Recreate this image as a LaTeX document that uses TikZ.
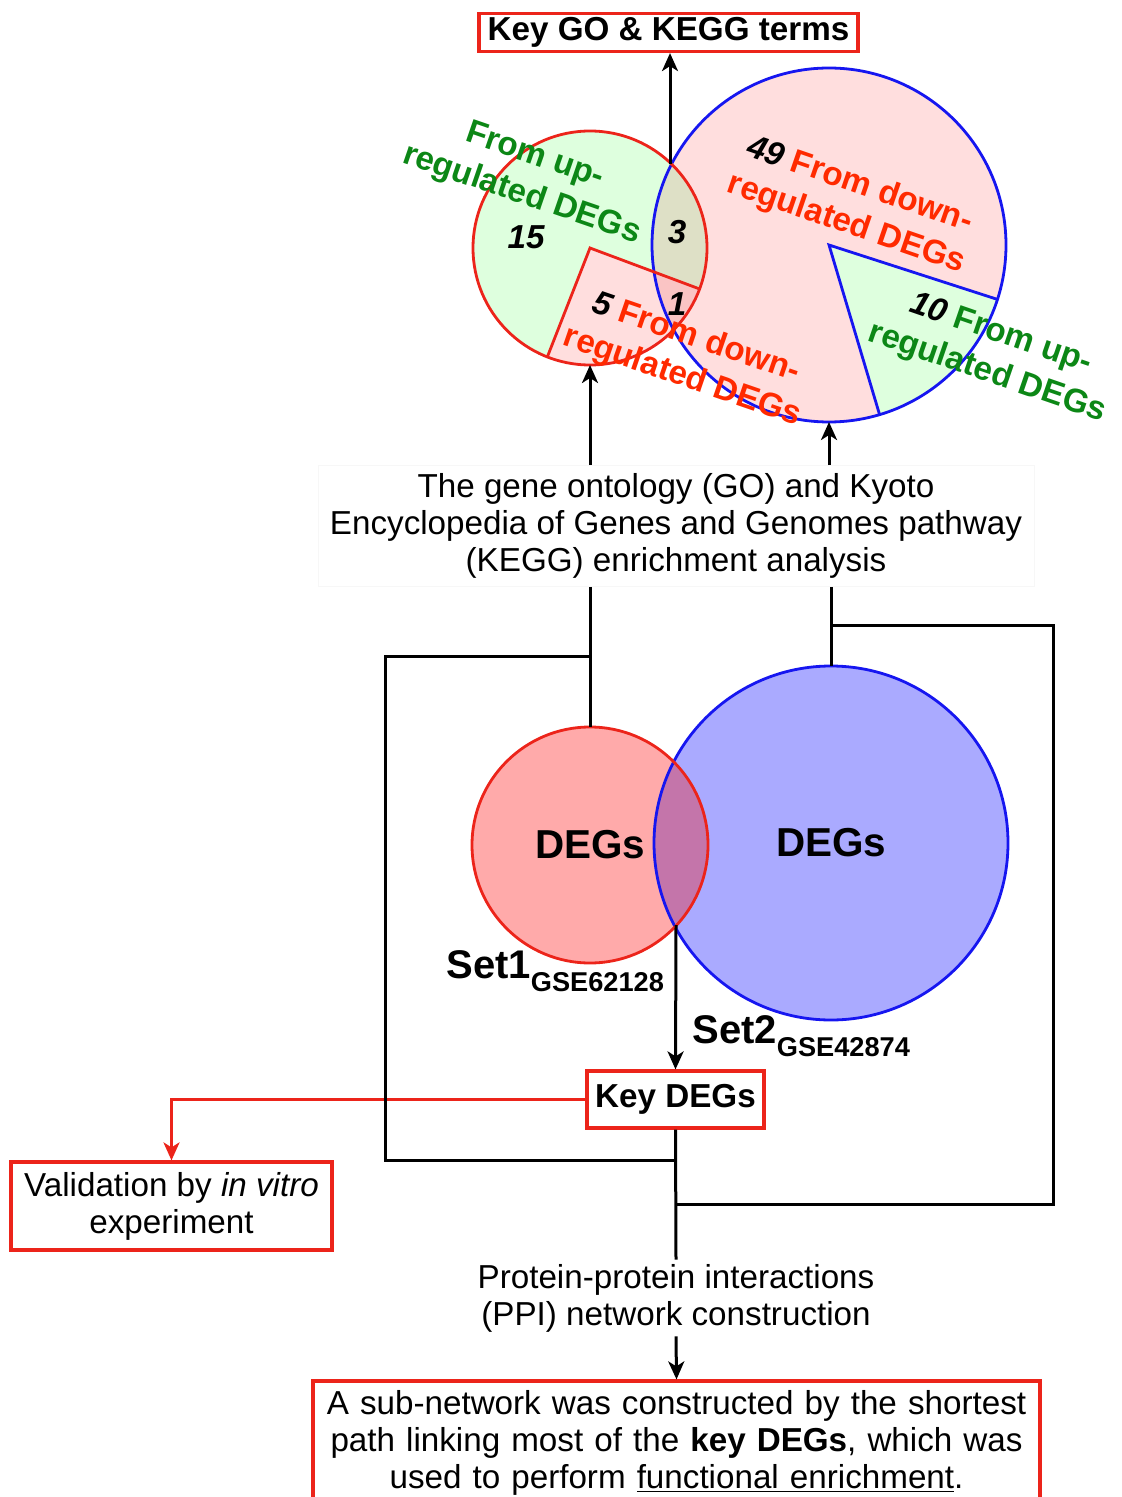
\documentclass[tikz,border=0pt]{standalone}
\usepackage{fontspec}
\setmainfont{Liberation Sans}
\usetikzlibrary{calc,arrows.meta,positioning}
\definecolor{boxred}{RGB}{236,36,26}
\definecolor{txtred}{RGB}{255,42,0}
\definecolor{txtgreen}{RGB}{12,135,22}
\definecolor{blueline}{RGB}{22,22,240}
\definecolor{pinkfill}{RGB}{255,222,222}
\definecolor{greenfill}{RGB}{222,255,222}
\definecolor{olivefill}{RGB}{222,224,198}
\definecolor{pinkdeep}{RGB}{250,196,196}
\definecolor{redfill}{RGB}{255,170,170}
\definecolor{bluefill}{RGB}{170,170,255}
\definecolor{mixfill}{RGB}{196,117,170}
\newcommand{\txt}{\fontsize{16.6}{18.5}\selectfont}

\begin{document}
\begin{tikzpicture}[x=0.5pt, y=-0.5pt,
  flow/.style={line width=1.5pt, black},
  arr/.style={flow, -{Stealth[length=9pt,width=8pt,inset=2.5pt]}},
  redbox/.style={draw=boxred, line width=1.6pt, fill=white, align=center, font=\txt},
  venn/.style={circle, inner sep=0pt, outer sep=0pt},
  tag/.style={rotate=-19, align=center, font=\fontsize{16.6}{20.5}\selectfont\bfseries},
  num/.style={font=\txt\bfseries\itshape, inner sep=0pt}]
  \useasboundingbox (0,0) rectangle (1122,1497);

  % enrichment result circles
  \node[venn, minimum size=177pt, fill=pinkfill] (upR) at (829,245) {};
  \begin{scope}
    \clip (upR.center) circle (177);
    \fill[greenfill] (upR.center) -- +(17.9:400) -- +(45.6:400) -- +(73.4:400) -- cycle;
  \end{scope}
  \node[venn, minimum size=117pt, fill=greenfill] (upL) at (590,248) {};
  \begin{scope}
    \clip (upL.center) circle (117);
    \fill[pinkfill] (upL.center) -- +(20.5:300) -- +(66:300) -- +(111.4:300) -- cycle;
    \clip (upR.center) circle (177);
    \fill[olivefill] (upL.center) circle (117);
    \fill[pinkdeep] (upL.center) -- +(20.5:300) -- +(66:300) -- +(111.4:300) -- cycle;
  \end{scope}
  \draw[blueline, line width=1.4pt] (upR.center) circle (177);
  \draw[blueline, line width=1.4pt] ($(upR.center)+(17.9:177)$) -- (upR.center) -- ($(upR.center)+(73.4:177)$);
  \draw[boxred, line width=1.4pt] (upL.center) circle (117);
  \draw[boxred, line width=1.4pt] ($(upL.center)+(20.5:117)$) -- (upL.center) -- ($(upL.center)+(111.4:117)$);

  \node[tag, txtgreen] (upLtag) at (528,176) {From up-\\regulated DEGs};
  \node[tag, txtred] (dnLtag) at (689,358) {{\color{black}\itshape 5} From down-\\regulated DEGs};
  \node[tag, txtred] (dnRtag) at (853,205) {{\color{black}\itshape 49} From down-\\regulated DEGs};
  \node[tag, txtgreen] (upRtag) at (994,354) {{\color{black}\itshape 10} From up-\\regulated DEGs};
  \node[num] (n15) at (526,237) {15};
  \node[num] (n3) at (677,232) {3};
  \node[num] (n1) at (677,304) {1};

  \node[redbox, font=\txt\bfseries, minimum width=189.5pt, minimum height=19pt, inner ysep=0pt] (keygo) at (668.5,32.5) {Key GO \& KEGG terms};
  \coordinate (topx) at (670,164);
  \draw[arr] (topx) -- (topx |- keygo.south);

  \node[draw=black!3, fill=white, align=center, font=\txt, inner xsep=6pt, inner ysep=4pt] (gotext) at (676,526)
    {The gene ontology (GO) and Kyoto\\Encyclopedia of Genes and Genomes pathway\\(KEGG) enrichment analysis};
  \draw[arr] (gotext.north -| upL.south) -- (upL.south);
  \draw[arr] (gotext.north -| upR.south) -- (upR.south);

  % the two DEG sets
  \node[venn, minimum size=177pt, fill=bluefill] (lowR) at (831,843) {};
  \node[venn, minimum size=118pt, fill=redfill] (lowL) at (590,845) {};
  \begin{scope}
    \clip (lowL.center) circle (118);
    \fill[mixfill] (lowR.center) circle (177);
  \end{scope}
  \draw[blueline, line width=1.4pt] (lowR.center) circle (177);
  \draw[boxred, line width=1.4pt] (lowL.center) circle (118);
  \node[font=\fontsize{20.2}{24}\selectfont\bfseries] (degL) at (lowL.center) {DEGs};
  \node[font=\fontsize{20.2}{24}\selectfont\bfseries] (degR) at (lowR.center) {DEGs};
  \node[anchor=base west, inner sep=0pt, font=\fontsize{20}{24}\selectfont\bfseries] (set1) at (446,978)
    {Set1\raisebox{-6.5pt}{\fontsize{13.6}{16}\selectfont GSE62128}};
  \node[anchor=base west, inner sep=0pt, font=\fontsize{20}{24}\selectfont\bfseries] (set2) at (692,1043)
    {Set2\raisebox{-6.5pt}{\fontsize{13.6}{16}\selectfont GSE42874}};

  \draw[flow] (gotext.south -| lowL.north) -- (lowL.north);
  \draw[flow] (gotext.south -| lowR.north) -- (lowR.north);

  \node[redbox, font=\txt\bfseries, minimum width=88.5pt, minimum height=28.5pt] (keydegs) at (675.5,1099.5) {Key DEGs};
  \coordinate (lowx) at (676,925);
  \draw[arr] (lowx) -- (keydegs.north);

  \node[redbox, minimum width=160.5pt, minimum height=44pt] (valid) at (171.5,1206) {Validation by \textit{in vitro}\\experiment};
  \draw[boxred, line width=1.5pt, -{Stealth[length=9pt,width=8pt,inset=2.5pt]}] (keydegs.west) -| (valid.north);

  \node[font=\txt, align=center, inner sep=2pt] (ppi) at (676,1298) {Protein-protein interactions\\(PPI) network construction};

  % side loops joining the sets below Key DEGs
  \coordinate (jL) at (591,656);
  \coordinate (cL) at (385,1160);
  \coordinate (jR) at (831,625);
  \coordinate (cR) at (1053,1204);
  \draw[flow] (jL) -| (cL) -- (cL -| keydegs.south);
  \draw[flow] (jR) -| (cR) -- (cR -| keydegs.south);
  \draw[flow] (keydegs.south) -- (ppi.north);

  \node[redbox, text width=352pt, inner xsep=5.75pt, minimum height=62pt] (subnet) at (676.5,1443)
    {A sub-network was constructed by the shortest\\path linking most of the \textbf{key DEGs}, which was\\used to perform \underline{functional enrichment}.};
  \draw[arr] (ppi.south) -- (subnet.north);
\end{tikzpicture}
\end{document}
